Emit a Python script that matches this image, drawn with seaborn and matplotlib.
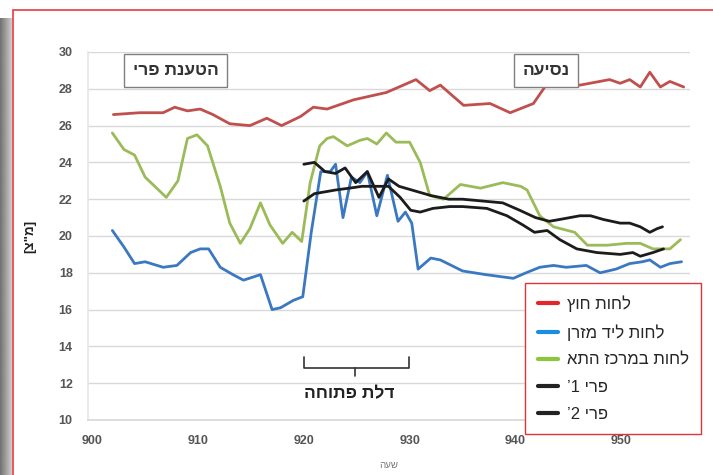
import numpy as np
import pandas as pd
import matplotlib
matplotlib.use("Agg")
import matplotlib.pyplot as plt
import seaborn as sns
from matplotlib.lines import Line2D
from matplotlib.patches import Rectangle

# Hebrew strings are stored in visual (left-to-right) order, matplotlib has no bidi
outside_t = [902, 904.5, 906.7, 907.8, 909, 910.2, 911.4, 913, 914.9, 916.5, 917.9,
             919.7, 920.9, 922.2, 924.7, 927.8, 930.6, 931.9, 932.9, 935.1, 937.6,
             939.5, 941.7, 942.9, 946.1, 948.9, 949.9, 950.8, 951.8, 952.7, 953.7,
             954.6, 955.9]
outside_v = [26.6, 26.7, 26.7, 27.0, 26.8, 26.9, 26.6, 26.1, 26.0, 26.4, 26.0,
             26.5, 27.0, 26.9, 27.4, 27.8, 28.5, 27.9, 28.2, 27.1, 27.2,
             26.7, 27.2, 28.2, 28.2, 28.5, 28.3, 28.5, 28.1, 28.9, 28.1,
             28.4, 28.1]

mattress_t = [901.9, 903, 904, 905, 906.7, 908, 909.3, 910.2, 911, 912.1, 913.3,
              914.3, 915.9, 917, 917.8, 919, 919.9, 920.7, 921.6, 922.5, 923,
              923.7, 924.5, 925.3, 926, 926.9, 927.9, 928.9, 929.6, 930.2, 930.8,
              932, 932.9, 935, 937.2, 939.8, 941, 942.3, 943.6, 944.8, 946.7,
              948, 949.5, 950.8, 952, 952.7, 953.7, 954.6, 955.7]
mattress_v = [20.3, 19.4, 18.5, 18.6, 18.3, 18.4, 19.1, 19.3, 19.3, 18.3, 17.9,
              17.6, 17.9, 16.0, 16.1, 16.5, 16.7, 20.2, 23.5, 23.5, 23.9,
              21.0, 23.2, 22.9, 23.5, 21.1, 23.3, 20.8, 21.3, 20.7, 18.2,
              18.8, 18.7, 18.1, 17.9, 17.7, 18.0, 18.3, 18.4, 18.3, 18.4,
              18.0, 18.2, 18.5, 18.6, 18.7, 18.3, 18.5, 18.6]

center_t = [901.9, 903, 904, 905, 907, 908.1, 909, 909.9, 910.9, 912.1, 913,
            914, 914.9, 915.9, 916.8, 918, 918.9, 919.8, 920.6, 921.5, 922.2,
            922.8, 924.1, 925.3, 926, 926.9, 927.8, 928.7, 930, 931, 931.9,
            933.2, 934.8, 936.7, 938.8, 940.5, 941.1, 942.3, 943.6, 945.6, 946.8,
            948.7, 950.5, 951.8, 953, 954.6, 955.6]
center_v = [25.6, 24.7, 24.4, 23.2, 22.1, 23.0, 25.3, 25.5, 24.9, 22.7, 20.7,
            19.6, 20.4, 21.8, 20.6, 19.6, 20.2, 19.7, 22.9, 24.9, 25.3,
            25.4, 24.9, 25.2, 25.3, 25.0, 25.6, 25.1, 25.1, 24.0, 22.2,
            22.0, 22.8, 22.6, 22.9, 22.7, 22.5, 21.1, 20.5, 20.2, 19.5,
            19.5, 19.6, 19.6, 19.3, 19.3, 19.8]

fruit1_t = [920, 921, 922, 923, 923.9, 924.9, 926, 927.1, 928, 929, 930.2, 932,
            933.7, 935, 936.9, 938.8, 940.4, 941.9, 943.2, 944.2, 946.1, 947.1,
            948.3, 949.9, 950.8, 951.8, 952.7, 953.4, 953.9]
fruit1_v = [23.9, 24.0, 23.5, 23.4, 23.7, 22.9, 23.5, 22.1, 23.1, 22.7, 22.5, 22.2,
            22.0, 22.0, 21.9, 21.8, 21.4, 21.0, 20.8, 20.9, 21.1, 21.1,
            20.9, 20.7, 20.7, 20.5, 20.2, 20.4, 20.5]

fruit2_t = [920, 921, 922, 923, 924.3, 925.5, 926.7, 928, 929.1, 930.1, 931, 932.2,
            933.8, 935, 937.3, 939.2, 940.7, 941.8, 943, 944.2, 945.8, 947.7,
            949.9, 951.1, 951.8, 953, 954]
fruit2_v = [21.9, 22.3, 22.4, 22.5, 22.6, 22.7, 22.7, 22.7, 22.1, 21.4, 21.3, 21.5,
            21.6, 21.6, 21.5, 21.1, 20.6, 20.2, 20.3, 19.8, 19.3, 19.1,
            19.0, 19.1, 18.9, 19.1, 19.3]

series_names = ["ץוח תוחל", "ןרזמ דיל תוחל", "אתה זכרמב תוחל", "’1 ירפ", "’2 ירפ"]
line_colors = ["#c0504d", "#3b78c2", "#9bbb59", "#1c1c1c", "#1c1c1c"]
legend_colors = ["#e3262b", "#1c8ee0", "#8cc63e", "#222222", "#222222"]

x_ticks = [900, 910, 920, 930, 940, 950]
y_ticks = list(range(10, 31, 2))

frames = []
for name, t, v in zip(series_names,
                      [outside_t, mattress_t, center_t, fruit1_t, fruit2_t],
                      [outside_v, mattress_v, center_v, fruit1_v, fruit2_v]):
    frames.append(pd.DataFrame({"time": t, "value": v, "series": name}))
df = pd.concat(frames, ignore_index=True)

sns.set_theme(style="whitegrid")
plt.rcParams["font.family"] = ["Liberation Sans", "DejaVu Sans"]

fig = plt.figure(figsize=(7.13, 4.75), dpi=100)
ax = fig.add_axes([88 / 713, 1 - 420 / 475, 602 / 713, 368 / 475])

sns.lineplot(data=df, x="time", y="value", hue="series", hue_order=series_names,
             palette=line_colors, linewidth=2, legend=False, ax=ax,
             estimator=None, sort=False)

ax.set_xlim(899.6, 956.5)
ax.set_ylim(10, 30)
ax.set_xticks(x_ticks)
ax.set_yticks(y_ticks)
ax.grid(axis="x", visible=False)
ax.grid(axis="y", color="#d9d9d9", linewidth=1)
for s in ["top", "right"]:
    ax.spines[s].set_visible(False)
ax.spines["left"].set_color("#e6e6e6")
ax.spines["bottom"].set_color("#d9d9d9")
ax.tick_params(axis="both", labelsize=9, colors="#555555", length=0, pad=11)
for lbl in ax.get_xticklabels() + ax.get_yticklabels():
    lbl.set_fontweight("bold")

ax.set_xlabel("העש", fontsize=7, color="#777777", labelpad=9)
ax.set_ylabel("[צ\"מ]", fontsize=9.5, fontweight="bold", color="#222222", labelpad=16)

box = dict(boxstyle="square,pad=0.5", fc="white", ec="#7f7f7f", lw=1)
ax.text(907.9, 29.0, "ירפ תנעטה", ha="center", va="center", fontsize=12.5,
        fontweight="bold", color="#333333", bbox=box)
ax.text(942.9, 29.0, "העיסנ", ha="center", va="center", fontsize=12.5,
        fontweight="bold", color="#333333", bbox=box)

# bracket for the open door period
ax.plot([920, 920, 929.9, 929.9], [13.45, 12.8, 12.8, 13.45], color="#333333", lw=1.2)
ax.plot([924.8, 924.8], [12.8, 12.4], color="#333333", lw=1.2)
ax.text(924.3, 11.45, "החותפ תלד", ha="center", va="center", fontsize=12.5,
        fontweight="bold", color="#222222")

handles = [Line2D([0], [0], color=c, lw=3) for c in legend_colors]
leg = fig.legend(handles, series_names, loc="upper left",
                 bbox_to_anchor=(525 / 713, 1 - 283 / 475), fontsize=12,
                 frameon=True, fancybox=False, handlelength=1.2, handletextpad=0.55,
                 labelspacing=0.72, borderpad=0.75, borderaxespad=0)
leg.get_frame().set_edgecolor("#e0343a")
leg.get_frame().set_linewidth(1)
leg.get_frame().set_facecolor("white")
leg.get_frame().set_alpha(1)

# screenshot frame: red border and grey shadow on the left
fig.patches.append(Rectangle((13 / 713, -0.01), 1.0, 1 - 10 / 475 + 0.01,
                             transform=fig.transFigure, fill=False,
                             ec="#e8393f", lw=1.2, zorder=10))
sh = fig.add_axes([0, 0, 12 / 713, 1 - 18 / 475])
sh.imshow(np.linspace(0.45, 0.8, 20).reshape(1, -1), cmap="gray", aspect="auto",
          vmin=0, vmax=1)
sh.axis("off")

fig.savefig("out.png", dpi=100)
